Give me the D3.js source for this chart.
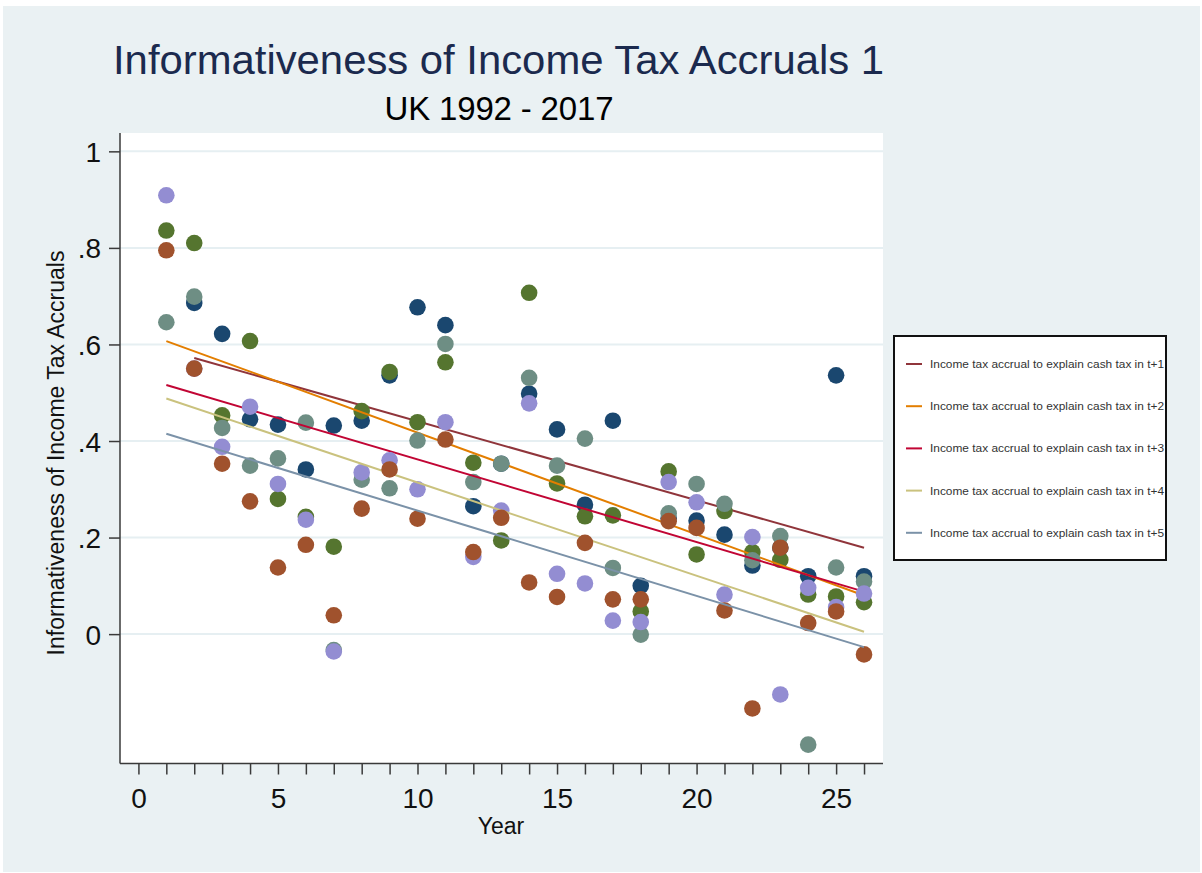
<!DOCTYPE html>
<html>
<head>
<meta charset="utf-8">
<script src="https://cdn.jsdelivr.net/npm/d3@7"></script>
<style>
  body { margin: 0; background: #fff; }
  svg { display: block; font-family: "Liberation Sans", Arial, sans-serif; }
</style>
</head>
<body>
<div id="chart"></div>
<script>
// values
const years = d3.range(1, 27);

const seriesNames = ["t+1", "t+2", "t+3", "t+4", "t+5"];

const accrualT1 = [null, 0.686, 0.622, 0.445, 0.434, 0.341, 0.432, 0.442, 0.536, 0.677, 0.640, 0.265, 0.353,
    0.498, 0.424, 0.268, 0.442, 0.100, 0.240, 0.235, 0.206, 0.142, 0.179, 0.120, 0.536, 0.120];
const accrualT2 = [0.836, 0.810, 0.453, 0.607, 0.280, 0.243, 0.181, 0.462, 0.543, 0.439, 0.563, 0.355, 0.194,
    0.707, 0.312, 0.244, 0.246, 0.047, 0.337, 0.165, 0.255, 0.170, 0.154, 0.082, 0.078, 0.066];
const accrualT3 = [0.646, 0.699, 0.427, 0.349, 0.364, 0.438, -0.033, 0.320, 0.302, 0.401, 0.601, 0.315, 0.353,
    0.531, 0.349, 0.405, 0.137, -0.001, 0.250, 0.311, 0.270, 0.153, 0.203, -0.229, 0.138, 0.109];
const accrualT4 = [0.909, 0.550, 0.388, 0.471, 0.311, 0.237, -0.036, 0.335, 0.360, 0.300, 0.439, 0.160, 0.256,
    0.478, 0.125, 0.105, 0.028, 0.025, 0.315, 0.273, 0.082, 0.201, -0.125, 0.096, 0.056, 0.084];
const accrualT5 = [0.795, 0.550, 0.353, 0.275, 0.138, 0.185, 0.039, 0.260, 0.341, 0.239, 0.403, 0.170, 0.241,
    0.107, 0.077, 0.189, 0.072, 0.072, 0.234, 0.220, 0.049, -0.154, 0.179, 0.023, 0.047, -0.042];

// fitted lines (lfit) end points
const fitStartX = [2, 1, 1, 1, 1];
const fitEndX = [26, 26, 26, 26, 26];
const fitStartY = [0.572, 0.607, 0.516, 0.488, 0.415];
const fitEndY = [0.179, 0.080, 0.088, 0.005, -0.027];

const xTicks = d3.range(0, 27);
const xTickLabels = [0, 5, 10, 15, 20, 25];
const yTicks = [0, 0.2, 0.4, 0.6, 0.8, 1];
const yTickLabels = ["0", ".2", ".4", ".6", ".8", "1"];

const markerColors = ["#1a476f", "#55752f", "#6e8e84", "#938dd2", "#a0522d"];
const lineColors = ["#90353b", "#e37e00", "#c10534", "#cac27e", "#7b92a8"];

const allSeries = [accrualT1, accrualT2, accrualT3, accrualT4, accrualT5];

let width = 1202, height = 873;
let plot = {left: 120, right: 883, top: 133, bottom: 763.5};

let svg = d3.select("#chart").append("svg")
    .attr("width", width)
    .attr("height", height);

// graph region background
svg.append("rect")
    .attr("x", 3).attr("y", 6)
    .attr("width", 1197).attr("height", 866)
    .style("fill", "#eaf1f3");

svg.append("rect")
    .attr("x", plot.left).attr("y", plot.top)
    .attr("width", plot.right - plot.left).attr("height", plot.bottom - plot.top)
    .style("fill", "#fff");

let x = d3.scaleLinear().domain([-0.66, 26.68]).range([plot.left, plot.right]);
let y = d3.scaleLinear().domain([-0.268, 1.038]).range([plot.bottom, plot.top]);

// gridlines
svg.append("g").selectAll("line")
    .data(yTicks)
  .enter().append("line")
    .attr("x1", plot.left).attr("x2", plot.right)
    .attr("y1", d => y(d)).attr("y2", d => y(d))
    .style("stroke", "#e6eff2")
    .style("stroke-width", 2);

// axes
let xAxis = d3.axisBottom(x)
    .tickValues(xTicks)
    .tickSize(11)
    .tickPadding(14)
    .tickFormat(d => xTickLabels.indexOf(d) > -1 ? d : "");

let gx = svg.append("g")
    .attr("transform", "translate(0," + plot.bottom + ")")
    .call(xAxis);
gx.select(".domain").attr("d", "M" + plot.left + ",0H" + plot.right);

let yAxis = d3.axisLeft(y)
    .tickValues(yTicks)
    .tickSize(11)
    .tickPadding(8)
    .tickFormat((d, i) => yTickLabels[i]);

let gy = svg.append("g")
    .attr("transform", "translate(" + plot.left + ",0)")
    .call(yAxis);
gy.select(".domain").attr("d", "M0," + plot.top + "V" + plot.bottom);

svg.selectAll(".domain, .tick line")
    .style("stroke", "#3a3a3a")
    .style("stroke-width", 1.5);
svg.selectAll(".tick text")
    .style("font-family", "'Liberation Sans', Arial, sans-serif")
    .style("font-size", "28px")
    .style("fill", "#111");
gx.selectAll(".tick text").attr("dy", "0.71em");
gy.selectAll(".tick text").attr("dy", "0.36em");

// scatter and lfit, in stata plot order
let lineGen = d3.line().x(d => x(d[0])).y(d => y(d[1]));

allSeries.forEach(function(values, i) {
    let pts = years.map((yr, j) => [yr, values[j]]).filter(d => d[1] !== null);
    svg.append("g").selectAll("circle")
        .data(pts)
      .enter().append("circle")
        .attr("cx", d => x(d[0]))
        .attr("cy", d => y(d[1]))
        .attr("r", 8.3)
        .style("fill", markerColors[i]);

    svg.append("path")
        .datum([[fitStartX[i], fitStartY[i]], [fitEndX[i], fitEndY[i]]])
        .attr("d", lineGen)
        .style("fill", "none")
        .style("stroke", lineColors[i])
        .style("stroke-width", 2);
});

// titles
svg.append("text")
    .attr("x", 498.5).attr("y", 74)
    .attr("text-anchor", "middle")
    .attr("textLength", 771)
    .attr("lengthAdjust", "spacingAndGlyphs")
    .style("font-size", "41px")
    .style("fill", "#1b2a4e")
    .text("Informativeness of Income Tax Accruals 1");

svg.append("text")
    .attr("x", 499).attr("y", 120)
    .attr("text-anchor", "middle")
    .attr("textLength", 229)
    .attr("lengthAdjust", "spacing")
    .style("font-size", "33px")
    .style("fill", "#000")
    .text("UK 1992 - 2017");

svg.append("text")
    .attr("x", 501).attr("y", 834)
    .attr("text-anchor", "middle")
    .style("font-size", "23px")
    .style("fill", "#111")
    .text("Year");

svg.append("text")
    .attr("transform", "translate(63.5,453) rotate(-90)")
    .attr("text-anchor", "middle")
    .style("font-size", "23px")
    .style("fill", "#111")
    .text("Informativeness of Income Tax Accruals");

// legend
let legend = svg.append("g");
legend.append("rect")
    .attr("x", 894).attr("y", 336)
    .attr("width", 272).attr("height", 224)
    .style("fill", "#fff")
    .style("stroke", "#111")
    .style("stroke-width", 2);

let entry = legend.selectAll(".entry")
    .data(seriesNames)
  .enter().append("g")
    .attr("class", "entry")
    .attr("transform", (d, i) => "translate(0," + (364 + i * 42.2) + ")");

entry.append("line")
    .attr("x1", 906).attr("x2", 922)
    .style("stroke", (d, i) => lineColors[i])
    .style("stroke-width", 2);

entry.append("text")
    .attr("x", 930)
    .attr("dy", "0.35em")
    .attr("textLength", 234)
    .attr("lengthAdjust", "spacingAndGlyphs")
    .style("font-size", "11.5px")
    .style("fill", "#333")
    .text(d => "Income tax accrual to explain cash tax in " + d);
</script>
</body>
</html>
